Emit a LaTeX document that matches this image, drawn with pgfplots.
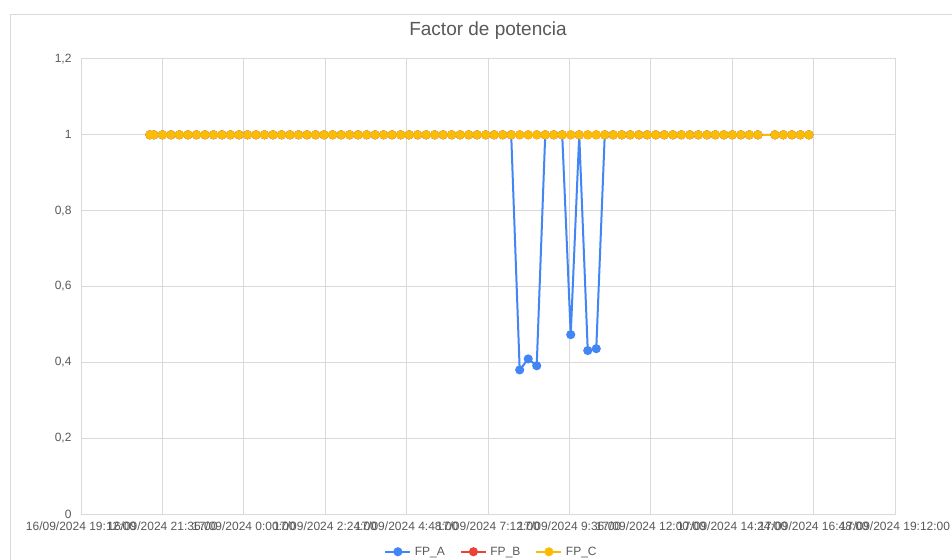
\documentclass[border=0pt]{standalone}
\usepackage{pgfplots}
\pgfplotsset{compat=1.18}
\usepackage{pgfplotstable}
\usepackage{fontspec}
\setmainfont{Liberation Sans}
\definecolor{textgray}{HTML}{595959}
\definecolor{gridgray}{HTML}{D9D9D9}
\definecolor{fpA}{HTML}{4285F4}
\definecolor{fpB}{HTML}{EA4335}
\definecolor{fpC}{HTML}{FBBC04}
\pgfplotstableread{
x A B C
2.030 1 1 1
2.150 1 1 1
2.401 1 1 1
2.652 1 1 1
2.902 1 1 1
3.153 1 1 1
3.404 1 1 1
3.655 1 1 1
3.906 1 1 1
4.156 1 1 1
4.407 1 1 1
4.658 1 1 1
4.909 1 1 1
5.160 1 1 1
5.410 1 1 1
5.661 1 1 1
5.912 1 1 1
6.163 1 1 1
6.414 1 1 1
6.664 1 1 1
6.915 1 1 1
7.166 1 1 1
7.417 1 1 1
7.668 1 1 1
7.918 1 1 1
8.169 1 1 1
8.420 1 1 1
8.671 1 1 1
8.922 1 1 1
9.172 1 1 1
9.423 1 1 1
9.674 1 1 1
9.925 1 1 1
10.176 1 1 1
10.426 1 1 1
10.677 1 1 1
10.928 1 1 1
11.179 1 1 1
11.430 1 1 1
11.680 1 1 1
11.931 1 1 1
12.182 1 1 1
12.433 1 1 1
12.684 1 1 1
12.934 0.380 1 1
13.185 0.409 1 1
13.436 0.391 1 1
13.687 1 1 1
13.938 1 1 1
14.188 1 1 1
14.439 0.473 1 1
14.690 1 1 1
14.941 0.431 1 1
15.192 0.436 1 1
15.442 1 1 1
15.693 1 1 1
15.944 1 1 1
16.195 1 1 1
16.446 1 1 1
16.696 1 1 1
16.947 1 1 1
17.198 1 1 1
17.449 1 1 1
17.700 1 1 1
17.950 1 1 1
18.201 1 1 1
18.452 1 1 1
18.703 1 1 1
18.954 1 1 1
19.204 1 1 1
19.455 1 1 1
19.706 1 1 1
19.957 1 1 1
20.458 1 1 1
20.709 1 1 1
20.960 1 1 1
21.211 1 1 1
21.462 1 1 1
}\fpdata
\begin{document}
\begin{tikzpicture}
\useasboundingbox (0,0) rectangle (952pt,559pt);
\fill[white] (0,0) rectangle (952pt,559pt);
\draw[color=gridgray, line width=1pt] (10.5pt,-10pt) rectangle (975pt,544.5pt);
\begin{axis}[
  at={(81pt,45pt)}, anchor=south west,
  width=814pt, height=455pt, scale only axis,
  xmin=0, xmax=24, ymin=0, ymax=1.2,
  xtick={0,2.4,4.8,7.2,9.6,12,14.4,16.8,19.2,21.6,24},
  xticklabels={16/09/2024 19:12:00, 16/09/2024 21:36:00, 17/09/2024 0:00:00, 17/09/2024 2:24:00, 17/09/2024 4:48:00, 17/09/2024 7:12:00, 17/09/2024 9:36:00, 17/09/2024 12:00:00, 17/09/2024 14:24:00, 17/09/2024 16:48:00, 17/09/2024 19:12:00},
  ytick={0,0.2,0.4,0.6,0.8,1,1.2},
  /pgf/number format/assume math mode=true,
  /pgf/number format/fixed,
  /pgf/number format/use comma,
  grid=major,
  grid style={color=gridgray, line width=1pt},
  axis line style={draw=gridgray, line width=1pt},
  major tick length=0pt,
  tick label style={font=\fontsize{12}{14}\selectfont, text=textgray},
  xticklabel style={yshift=-4.5pt},
  yticklabel style={xshift=-6pt},
  title={Factor de potencia},
  title style={font=\fontsize{19}{22}\selectfont, text=textgray, at={(0.5,1)}, anchor=base, yshift=17pt},
  legend columns=3,
  legend style={draw=none, fill=none, at={(0.5,-0.083)}, anchor=center, xshift=3.5pt,
    font=\fontsize{12}{14}\selectfont, text=textgray,
    /tikz/every even column/.append style={column sep=13pt},
    /tikz/every odd column/.append style={column sep=1.5pt}},
  legend image code/.code={\draw[mark repeat=2,mark phase=2,#1] plot coordinates {(0pt,0pt) (12.5pt,0pt) (25pt,0pt)};},
  every axis plot/.append style={line width=2pt, mark=*, mark size=3.5pt, mark options={solid, line width=0pt}},
]
\addplot[color=fpA, mark options={fill=fpA, draw=fpA}] table[x=x, y=A] {\fpdata};
\addlegendentry{FP\_A}
\addplot[color=fpB, mark options={fill=fpB, draw=fpB}] table[x=x, y=B] {\fpdata};
\addlegendentry{FP\_B}
\addplot[color=fpC, mark options={fill=fpC, draw=fpC}] table[x=x, y=C] {\fpdata};
\addlegendentry{FP\_C}
\end{axis}
\end{tikzpicture}
\end{document}
